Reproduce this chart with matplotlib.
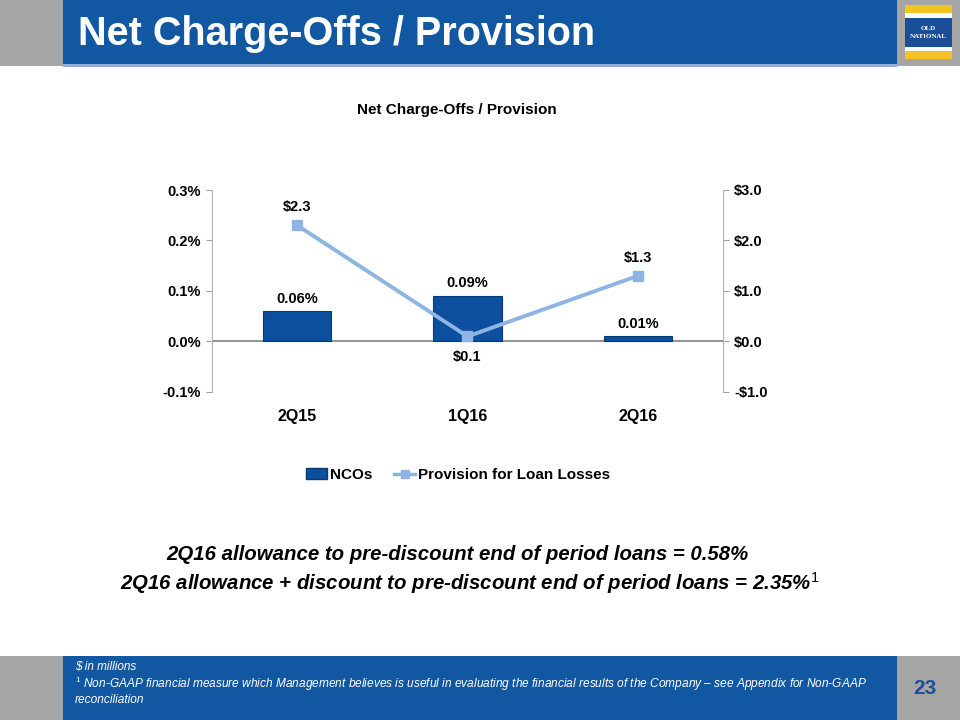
import matplotlib
matplotlib.use("Agg")
import matplotlib.pyplot as plt
from matplotlib.patches import Rectangle
from matplotlib.lines import Line2D

plt.rcParams["mathtext.fontset"] = "custom"
plt.rcParams["mathtext.rm"] = "Liberation Sans"
plt.rcParams["mathtext.it"] = "Liberation Sans:italic"
plt.rcParams["mathtext.bf"] = "Liberation Sans:bold"

categories = ["2Q15", "1Q16", "2Q16"]
nco_pct = [0.06, 0.09, 0.01]
provision = [2.3, 0.1, 1.3]
nco_labels = ["0.06%", "0.09%", "0.01%"]
prov_labels = ["$2.3", "$0.1", "$1.3"]
left_ticks = [-0.1, 0.0, 0.1, 0.2, 0.3]
left_tick_labels = ["-0.1%", "0.0%", "0.1%", "0.2%", "0.3%"]
right_ticks = [-1.0, 0.0, 1.0, 2.0, 3.0]
right_tick_labels = ["-$1.0", "$0.0", "$1.0", "$2.0", "$3.0"]

W, H = 960, 720
fig = plt.figure(figsize=(9.6, 7.2), dpi=100)
fig.patch.set_facecolor("white")

ARIAL = ["Liberation Sans", "DejaVu Sans"]

def rect(x0, y0, x1, y1, color, z=0):
    fig.patches.append(Rectangle((x0 / W, 1 - y1 / H), (x1 - x0) / W, (y1 - y0) / H,
                                 transform=fig.transFigure, facecolor=color,
                                 edgecolor="none", zorder=z))

GREY = "#A5A5A5"
BLUE = "#1257A2"
# header
rect(0, 0, 960, 66, GREY)
rect(63, 0, 897, 66, BLUE)
rect(63, 64, 897, 67, "#8FB0D8")
# logo
rect(905, 5, 952, 13, "#F5C323", 1)
rect(905, 13, 952, 18, "white", 1)
rect(905, 18, 952, 47, "#1A4F97", 1)
rect(905, 47, 952, 51, "white", 1)
rect(905, 51, 952, 59, "#F5C323", 1)
fig.text(928.5 / W, 1 - 28 / H, "OLD", color="white", fontsize=5, family="Liberation Serif",
         ha="center", va="center", fontweight="bold")
fig.text(928.5 / W, 1 - 36 / H, "NATIONAL", color="white", fontsize=5, family="Liberation Serif",
         ha="center", va="center", fontweight="bold")
fig.text(78 / W, 1 - 34 / H, "Net Charge-Offs / Provision", color="white", fontsize=28.5,
         fontweight="bold", family=ARIAL, ha="left", va="center")

# footer
rect(0, 656, 960, 720, GREY)
rect(63, 656, 897, 720, BLUE)
fig.text(925 / W, 1 - 688 / H, "23", color="#1A4F97", fontsize=15, fontweight="bold",
         family=ARIAL, ha="center", va="center")
fig.text(75 / W, 1 - 667 / H, "$ in millions", color="white", fontsize=8.5, style="italic",
         family=ARIAL, ha="left", va="center")
fig.text(75 / W, 1 - 684 / H,
         r"$^{1}$ Non-GAAP financial measure which Management believes is useful in evaluating the financial results of the Company – see Appendix for Non-GAAP",
         color="white", fontsize=8.6, style="italic", family=ARIAL, ha="left", va="center")
fig.text(75 / W, 1 - 700 / H, "reconciliation", color="white", fontsize=8.6, style="italic",
         family=ARIAL, ha="left", va="center")

# chart
ax = fig.add_axes([212 / W, 1 - 392 / H, (723 - 212) / W, (392 - 190) / H])
ax2 = ax.twinx()
x = list(range(len(categories)))
BAR = "#0B4F9E"
ax.bar(x, nco_pct, width=0.4, color=BAR, edgecolor="#083A75", linewidth=0.8, zorder=3)
ax.set_xlim(-0.5, 2.5)
ax.set_ylim(-0.1, 0.3)
ax.set_yticks(left_ticks)
ax.set_yticklabels(left_tick_labels)
ax.axhline(0, color="#808080", linewidth=1.2, zorder=2)
ax.set_xticks(x)
ax.set_xticklabels(categories)
ax.tick_params(axis="x", length=0, pad=12, labelsize=11.5)
for lbl in ax.get_xticklabels():
    lbl.set_fontweight("bold"); lbl.set_family(ARIAL)
ax.tick_params(axis="y", length=4, color="#A0A0A0", labelsize=10.5, pad=4)
for lbl in ax.get_yticklabels():
    lbl.set_fontweight("bold"); lbl.set_family(ARIAL)
for s in ["top", "bottom"]:
    ax.spines[s].set_visible(False)
    ax2.spines[s].set_visible(False)
ax.spines["right"].set_visible(False)
ax.spines["left"].set_color("#B0B0B0")
ax2.spines["left"].set_visible(False)
ax2.spines["right"].set_color("#B0B0B0")

LINE = "#8DB4E2"
ax2.plot(x, provision, color=LINE, linewidth=2.8, marker="s", markersize=7.5, zorder=4)
ax2.set_ylim(-1.0, 3.0)
ax2.set_yticks(right_ticks)
ax2.set_yticklabels(right_tick_labels)
ax2.tick_params(axis="y", length=4, color="#A0A0A0", labelsize=10.5, pad=4)
for lbl in ax2.get_yticklabels():
    lbl.set_fontweight("bold"); lbl.set_family(ARIAL)
ax.set_zorder(1)
ax2.set_zorder(2)
ax.patch.set_visible(False)

for xi, v, t in zip(x, nco_pct, nco_labels):
    ax.annotate(t, (xi, v), xytext=(0, 4), textcoords="offset points", ha="center", va="bottom",
                fontsize=10.5, fontweight="bold", family=ARIAL)
offs = [8, -10, 8]
for xi, v, t, o in zip(x, provision, prov_labels, offs):
    ax2.annotate(t, (xi, v), xytext=(0, o), textcoords="offset points", ha="center",
                 va="bottom" if o > 0 else "top", fontsize=10.5, fontweight="bold", family=ARIAL)

fig.text(457 / W, 1 - 110 / H, "Net Charge-Offs / Provision", fontsize=11, fontweight="bold",
         family=ARIAL, ha="center", va="center")

# legend
handles = [Rectangle((0, 0), 1, 1, facecolor=BAR, edgecolor="#083A75"),
           Line2D([], [], color=LINE, linewidth=2.5, marker="s", markersize=6)]
leg = fig.legend(handles, ["NCOs", "Provision for Loan Losses"], loc="center",
                 bbox_to_anchor=(458 / W, 1 - 475 / H), ncol=2, frameon=False,
                 prop={"family": ARIAL, "weight": "bold", "size": 11},
                 handlelength=1.4, handletextpad=0.2, columnspacing=1.4)

fig.text(457 / W, 1 - 555 / H, "2Q16 allowance to pre-discount end of period loans = 0.58%",
         fontsize=14.7, fontweight="bold", style="italic", family=ARIAL, ha="center", va="center")
fig.text(470 / W, 1 - 583 / H,
         r"2Q16 allowance + discount to pre-discount end of period loans = 2.35%$^{1}$",
         fontsize=14.7, fontweight="bold", style="italic", family=ARIAL, ha="center", va="center")

fig.savefig("out.png", dpi=100)
